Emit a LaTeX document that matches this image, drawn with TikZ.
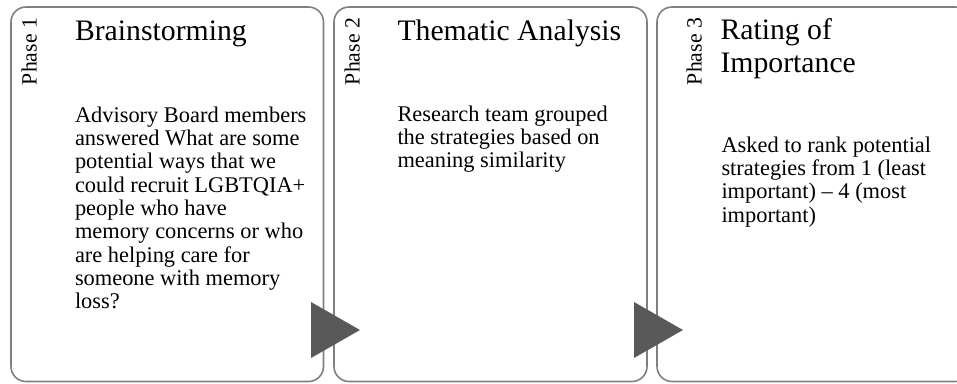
\documentclass[tikz,border=0pt]{standalone}
\usepackage{fontspec}
\setmainfont{Liberation Serif}

\definecolor{boxline}{RGB}{128,128,128}
\definecolor{trifill}{RGB}{89,89,89}

\tikzset{every picture/.style={line width=0.75pt}}
\tikzset{
  phasebox/.style={draw=boxline, line width=1.2pt, rounded corners=11.25pt},
  phasetri/.style={fill=trifill, draw=none},
  phaselabel/.style={anchor=base, inner sep=0pt, rotate=-270, font=\fontsize{16.3}{19}\selectfont},
  phasetitle/.style={anchor=base west, inner sep=0pt, align=left, font=\fontsize{22.3}{24.75}\selectfont},
  phasebody/.style={anchor=base west, inner sep=0pt, align=left, font=\fontsize{16.8}{17.5}\selectfont},
}

\begin{document}
\begin{tikzpicture}[x=0.75pt,y=0.75pt,yscale=-1,xscale=1]
\useasboundingbox (0,0) rectangle (957,383);
\clip (0,0) rectangle (957,383);

%Rounded Rect [id:box1]
\draw [phasebox] (11,7) rectangle (323.5,381.5);
%Rounded Rect [id:box2]
\draw [phasebox] (334,7) rectangle (647,381.5);
%Rounded Rect [id:box3]
\draw [phasebox] (657,7) rectangle (970,381.5);

%Shape: Triangle [id:tri1]
\draw [phasetri] (311,302) -- (360,330) -- (311,358) -- cycle;
%Shape: Triangle [id:tri2]
\draw [phasetri] (634,302) -- (683,330) -- (634,358) -- cycle;

% Text Node
\draw (36.5,51.5) node [phaselabel] (lab1) {Phase 1};
% Text Node
\draw (359.5,51.5) node [phaselabel] (lab2) {Phase 2};
% Text Node
\draw (701.5,51.5) node [phaselabel] (lab3) {Phase 3};

% Text Node (anchored at the baseline of the last line)
\draw (74.5,40.5) node [phasetitle] (title1) {Brainstorming};
% Text Node
\draw (397,40) node [phasetitle] (title2) {Thematic Analysis};
% Text Node
\draw (720,72) node [phasetitle] (title3) {Rating of\\Importance};

% Text Node
\draw (74.5,308.7) node [phasebody] (body1) {Advisory Board members\\answered What are some\\potential ways that we\\could recruit LGBTQIA+\\people who have\\memory concerns or who\\are helping care for\\someone with memory\\loss?};
% Text Node
\draw (397,167.7) node [phasebody] (body2) {Research team grouped\\the strategies based on\\meaning similarity};
% Text Node
\draw (721,222) node [phasebody] (body3) {Asked to rank potential\\strategies from 1 (least\\important) -- 4 (most\\important)};

\end{tikzpicture}
\end{document}
